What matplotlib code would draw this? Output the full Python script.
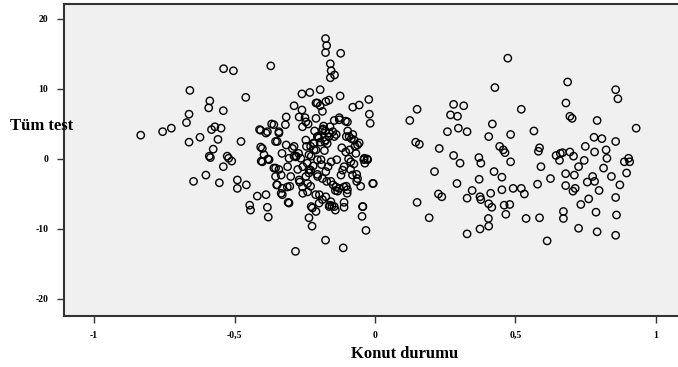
import matplotlib.pyplot as plt

# Konut durumu (x) / Tüm test (y)
# left group: negative x
left_x = [-0.834, -0.756, -0.725, -0.671, -0.659, -0.662, -0.662, -0.646, -0.623, -0.602,
          -0.592, -0.588, -0.590, -0.586, -0.582, -0.576, -0.570, -0.559, -0.554, -0.548,
          -0.540, -0.540, -0.539, -0.526, -0.521, -0.510, -0.504, -0.490, -0.490, -0.477,
          -0.460, -0.458, -0.446, -0.443, -0.419, -0.411, -0.407, -0.405, -0.388, -0.388,
          -0.383, -0.381, -0.380, -0.371, -0.368, -0.360, -0.354, -0.350, -0.342, -0.342,
          -0.334, -0.334, -0.331, -0.319, -0.316, -0.316, -0.311, -0.309, -0.303, -0.300,
          -0.288, -0.288, -0.283, -0.288, -0.280, -0.275, -0.272, -0.268, -0.260, -0.260,
          -0.257, -0.257, -0.249, -0.244, -0.241, -0.238, -0.235, -0.235, -0.235, -0.232,
          -0.229, -0.227, -0.227, -0.224, -0.218, -0.215, -0.210, -0.210, -0.210, -0.210,
          -0.204, -0.203, -0.198, -0.195, -0.195, -0.192, -0.187, -0.187, -0.183, -0.179,
          -0.176, -0.176, -0.172, -0.176, -0.176, -0.172, -0.167, -0.164, -0.164, -0.161,
          -0.159, -0.159, -0.156, -0.156, -0.153, -0.149, -0.145, -0.144, -0.141, -0.141,
          -0.138, -0.136, -0.133, -0.127, -0.124, -0.122, -0.121, -0.118, -0.113, -0.110,
          -0.110, -0.110, -0.105, -0.102, -0.102, -0.099, -0.097, -0.094, -0.090, -0.087,
          -0.084, -0.079, -0.079, -0.075, -0.071, -0.065, -0.065, -0.056, -0.056, -0.051,
          -0.046, -0.043, -0.040, -0.036, -0.032, -0.028, -0.022, -0.020, -0.017, -0.006,
          -0.294, -0.282, -0.306, -0.264, -0.235, -0.217, -0.205, -0.229, -0.246, -0.270,
          -0.258, -0.240, -0.187, -0.175, -0.157, -0.139, -0.127, -0.110, -0.098, -0.115,
          -0.080, -0.062, -0.086, -0.068, -0.104, -0.038, -0.026, -0.199, -0.223, -0.163,
          -0.145, -0.306, -0.044, -0.008, -0.175, -0.157, -0.211, -0.240,
          -0.187, -0.205, -0.175, -0.217, -0.163, -0.145, -0.246, -0.229, -0.127, -0.098,
          -0.092, -0.074, -0.062, -0.270, -0.258, -0.246, -0.205, -0.175,
          -0.407, -0.383, -0.360, -0.342, -0.348, -0.401, -0.395, -0.377, -0.401, -0.354,
          -0.354, -0.348, -0.330, -0.330, -0.312,
          -0.200, -0.185, -0.170, -0.160, -0.195, -0.180, -0.150, -0.220, -0.205, -0.190]
left_y = [3.4, 3.9, 4.4, 5.2, 9.8, 6.4, 2.4, -3.2, 3.1, -2.3,
          7.3, 8.3, 0.4, 0.2, 4.2, 1.4, 4.6, 2.8, -3.4, 4.4,
          6.9, -1.1, 12.9, 0.4, 0.1, -0.3, 12.6, -3.0, -4.2, 2.5,
          8.8, -3.7, -6.6, -7.3, -5.3, 4.2, 1.7, -0.3, 3.7, -5.1,
          -6.9, 0.0, -8.3, 13.3, 5.0, -1.3, 2.5, -3.7, 3.7, -1.5,
          -2.3, -4.9, 0.8, 4.9, 6.0, 2.0, -1.1, -6.2, -3.9, -2.5,
          7.6, 1.8, -13.2, 0.4, 0.4, -1.5, 0.8, -3.3, 9.3, 7.0,
          -1.1, -4.9, 5.9, 1.8, -0.6, 5.0, -1.5, -2.0, -8.4, 9.5,
          -3.9, -6.8, 0.4, -9.6, 2.3, 4.0, 5.8, 8.0, 1.3, -7.5,
          -2.5, 3.2, -5.1, 9.9, 7.6, -0.1, 6.8, -5.8, 4.7, 2.5,
          17.2, 15.2, 16.2, -11.6, 4.0, -3.2, -1.1, 8.4, 3.2, -6.6,
          11.6, 13.6, 12.6, -0.4, -6.7, -3.7, 5.5, 12.0, -7.3, -4.5,
          3.5, -0.1, -4.6, 5.9, 9.0, 15.1, -2.3, 1.6, -12.7, -6.2,
          -6.9, -1.1, 5.4, 3.2, -3.9, -4.9, 4.0, 0.0, 1.3, -1.5,
          2.9, 3.5, 7.4, -0.7, 1.8, -2.2, -3.2, 7.7, 2.3, -3.9,
          -8.2, -6.8, -0.1, -0.6, -10.2, 0.0, 8.5, 6.4, 5.1, -3.5,
          1.5, 0.3, 0.1, 0.1, 0.6, 1.3, -0.1, -1.6, -2.5, -3.0,
          -4.0, -4.7, -2.8, -1.8, -3.2, -4.0, -4.2, -4.0, -4.4, -1.6,
          -2.3, -2.8, -0.4, 0.8, 1.0, 0.1, -0.1, -6.3, -7.0, -6.8,
          -6.8, -6.3, -6.8, -3.5, -5.4, -6.1, -5.1, -3.5,
          4.1, 3.2, 2.7, 2.2, 3.7, 3.2, 2.7, 1.8, 5.6, 5.3,
          3.2, 2.7, 2.0, 6.0, 4.6, 5.3, 8.0, 8.2,
          4.1, 3.9, 4.9, 3.9, 2.5, 1.5, 0.6, -0.1, -0.4, -1.3,
          -2.5, -3.7, -4.2, -5.1, -4.0,
          3.0, 4.3, 2.2, 4.6, 2.4, 1.2, 3.9, -1.0, -2.2, -0.8]

# right group: positive x
right_x = [0.124, 0.150, 0.145, 0.158, 0.150, 0.193, 0.212, 0.229, 0.226, 0.238,
           0.258, 0.269, 0.280, 0.294, 0.316, 0.280, 0.297, 0.303, 0.328, 0.292,
           0.328, 0.328, 0.346, 0.370, 0.377, 0.371, 0.374, 0.377, 0.374, 0.405,
           0.418, 0.427, 0.424, 0.412, 0.405, 0.416, 0.404, 0.405, 0.444, 0.457,
           0.463, 0.452, 0.452, 0.460, 0.466, 0.473, 0.483, 0.483, 0.480, 0.492,
           0.521, 0.521, 0.532, 0.538, 0.566, 0.586, 0.582, 0.591, 0.579, 0.586,
           0.613, 0.625, 0.645, 0.660, 0.668, 0.657, 0.679, 0.679, 0.671, 0.671,
           0.686, 0.680, 0.694, 0.702, 0.694, 0.707, 0.710, 0.705, 0.713, 0.725,
           0.733, 0.725, 0.745, 0.749, 0.756, 0.761, 0.775, 0.780, 0.782, 0.782,
           0.791, 0.787, 0.791, 0.798, 0.808, 0.814, 0.823, 0.826, 0.842, 0.857,
           0.865, 0.857, 0.857, 0.860, 0.857, 0.872, 0.888, 0.896, 0.903, 0.907,
           0.930]
right_y = [5.5, 7.1, 2.4, 2.1, -6.2, -8.4, -1.8, 1.5, -5.0, -5.4,
           3.9, 6.3, 7.8, 6.1, 7.6, 0.5, 4.4, -0.6, 3.9, -3.5,
           -10.7, -5.6, -4.5, 0.2, -0.6, -2.9, -5.4, -5.8, -10.0, 3.2,
           5.0, 10.2, -1.8, -4.9, -6.4, -6.9, -8.5, -9.6, 1.8, 1.3,
           0.9, -2.6, -4.4, -6.6, -7.9, 14.4, 3.5, -0.4, -6.5, -4.2,
           7.1, -4.2, -5.0, -8.5, 4.0, 1.6, 1.1, -1.1, -3.6, -8.4,
           -11.7, -2.8, 0.5, 0.8, 0.9, -0.2, -2.1, -3.8, -7.5, -8.5,
           11.0, 8.0, 6.1, 5.8, 1.0, 0.4, -2.3, -4.6, -4.2, -1.1,
           -6.5, -9.9, -0.2, 1.8, -3.3, -5.7, -2.5, 3.1, 1.0, -3.2,
           5.5, -7.6, -10.4, -4.5, 2.9, -1.3, 1.3, 0.1, -2.5, 9.9,
           8.6, 2.5, -5.5, -8.0, -10.9, -3.7, -0.4, -2.0, 0.1, -0.4,
           4.4]

xticks = [-1, -0.5, 0, 0.5, 1]
xtick_labels = ['-1', '-0,5', '0', '0,5', '1']
yticks = [20, 10, 0, -10, -20]

fig = plt.figure(figsize=(6.78, 3.67), dpi=100, facecolor='white')
ax = fig.add_axes([63.5 / 678, 1 - 315.5 / 367, 1 - 63.5 / 678, (315.5 - 4) / 367])
ax.set_facecolor('#f0f0f0')

for xs, ys in [(left_x, left_y), (right_x, right_y)]:
    ax.scatter(xs, ys, s=28, facecolors='none', edgecolors='black', linewidths=1.0, zorder=3)

ax.set_xlim(-1.109, 1.079)
ax.set_ylim(-22.36, 22.14)

ax.set_xticks(xticks)
ax.set_xticklabels(xtick_labels)
ax.set_yticks(yticks)
ax.set_yticklabels([str(v) for v in yticks])
ax.tick_params(direction='out', length=5, width=1, color='#333333',
               labelsize=7, pad=6)
for lab in ax.get_xticklabels() + ax.get_yticklabels():
    lab.set_fontfamily('Liberation Serif')
    lab.set_fontweight('bold')

for side in ['left', 'bottom', 'top']:
    ax.spines[side].set_linewidth(1.5)
    ax.spines[side].set_color('#333333')
ax.spines['right'].set_visible(False)

fig.text(42 / 678, 1 - 126 / 367, 'Tüm test', ha='center', va='center',
         fontsize=12, fontweight='bold', family='Liberation Serif')
fig.text(405 / 678, 1 - 354 / 367, 'Konut durumu', ha='center', va='center',
         fontsize=12, fontweight='bold', family='Liberation Serif')

plt.savefig('out.png', dpi=100)
